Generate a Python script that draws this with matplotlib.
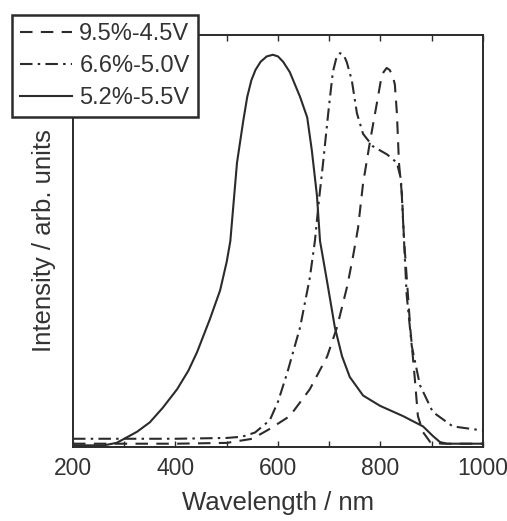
import matplotlib
matplotlib.use("Agg")
import matplotlib.pyplot as plt
from matplotlib.ticker import MultipleLocator

plt.rcParams['font.family'] = ['Liberation Sans', 'DejaVu Sans']

# Data (wavelength nm, normalized intensity)
wl_a = [200, 400, 500, 550, 584, 623, 662, 696, 715, 735, 746, 756, 766, 780, 793, 800, 806, 812,
        818, 824, 828, 832, 836, 842, 846, 849, 858, 867, 873, 883, 897, 920, 1000]
int_a = [0.008, 0.008, 0.01, 0.02, 0.044, 0.075, 0.14, 0.22, 0.29, 0.39, 0.46, 0.53, 0.64, 0.745,
         0.835, 0.885, 0.91, 0.92, 0.915, 0.90, 0.88, 0.81, 0.69, 0.61, 0.50, 0.45, 0.29, 0.165,
         0.075, 0.036, 0.012, 0.008, 0.008]

wl_b = [200, 300, 400, 500, 530, 555, 584, 600, 618, 643, 662, 672, 680, 688, 698, 707, 714, 721,
        728, 734, 744, 754, 766, 785, 813, 832, 840, 844, 851, 861, 877, 902, 941, 1000]
int_b = [0.02, 0.02, 0.02, 0.022, 0.025, 0.035, 0.065, 0.11, 0.18, 0.29, 0.41, 0.50, 0.60, 0.69,
         0.81, 0.91, 0.945, 0.956, 0.952, 0.935, 0.89, 0.81, 0.76, 0.73, 0.71, 0.69, 0.65, 0.55,
         0.37, 0.245, 0.15, 0.085, 0.05, 0.04]

wl_c = [200, 260, 285, 300, 325, 350, 375, 403, 425, 442, 467, 487, 500, 507, 520, 532, 540, 548,
        556, 566, 578, 590, 600, 610, 623, 643, 657, 666, 676, 682, 696, 711, 725, 740, 766, 799,
        844, 883, 902, 916, 930, 1000]
int_c = [0.004, 0.004, 0.01, 0.02, 0.037, 0.06, 0.095, 0.14, 0.185, 0.23, 0.31, 0.38, 0.45, 0.50,
         0.69, 0.79, 0.85, 0.89, 0.915, 0.935, 0.948, 0.952, 0.948, 0.935, 0.91, 0.85, 0.80, 0.72,
         0.61, 0.50, 0.40, 0.29, 0.22, 0.17, 0.125, 0.10, 0.075, 0.05, 0.027, 0.012, 0.008, 0.008]

labels = ["9.5%-4.5V", "6.6%-5.0V", "5.2%-5.5V"]
xticks = [200, 400, 600, 800, 1000]

W, H = 507, 521
fig = plt.figure(figsize=(W / 100, H / 100), dpi=100)
ax = fig.add_axes([73 / W, 1 - 447 / H, (483 - 73) / W, (447 - 35) / H])

col = '#2b2b2b'
ax.plot(wl_a, int_a, color=col, lw=1.5, linestyle=(0, (6, 4)), label=labels[0])
ax.plot(wl_b, int_b, color=col, lw=1.5, linestyle=(0, (6, 2.5, 1.2, 2.5)), label=labels[1])
ax.plot(wl_c, int_c, color=col, lw=1.5, linestyle='-', label=labels[2])

ax.set_xlim(200, 1000)
ax.set_ylim(0, 1)
ax.set_xticks(xticks)
ax.xaxis.set_minor_locator(MultipleLocator(100))
ax.set_yticks([])
ax.tick_params(axis='x', which='both', direction='in', top=True, length=4, width=1.0,
               color=col, labelsize=16.5, labelcolor='#333333', pad=7)
for s in ax.spines.values():
    s.set_linewidth(1.4)
    s.set_color(col)

ax.set_xlabel("Wavelength / nm", fontsize=18.5, color='#333333', labelpad=8)
ax.set_ylabel("Intensity / arb. units", fontsize=18.5, color='#333333', labelpad=12)

leg = ax.legend(loc='upper left', bbox_to_anchor=(12 / W, 1 - 15 / H),
                bbox_transform=fig.transFigure, borderaxespad=0, fontsize=17,
                handlelength=2.2, handletextpad=0.3, labelspacing=0.42,
                borderpad=0.35, fancybox=False, framealpha=1, edgecolor=col,
                labelcolor='#333333')
leg.get_frame().set_linewidth(1.8)

fig.savefig("out.png", dpi=100)
